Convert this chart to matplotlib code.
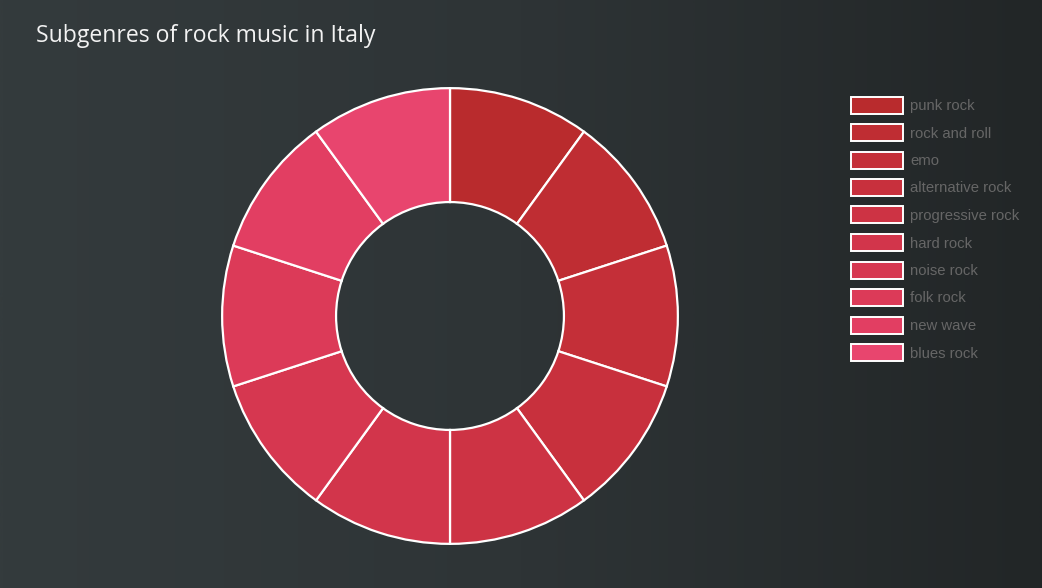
import numpy as np
import matplotlib
matplotlib.use("Agg")
import matplotlib.pyplot as plt
from matplotlib.patches import Rectangle
from matplotlib.colors import LinearSegmentedColormap

title = "Subgenres of rock music in Italy"
genres = ["punk rock", "rock and roll", "emo", "alternative rock", "progressive rock",
          "hard rock", "noise rock", "folk rock", "new wave", "blues rock"]
values = [1, 1, 1, 1, 1, 1, 1, 1, 1, 1]
colors = ["#b92b2d", "#bf2d33", "#c42f38", "#c8303d", "#cd3344",
          "#d2354b", "#d63750", "#dc3a58", "#e23e62", "#e8456e"]

W, H = 1042, 588
fig = plt.figure(figsize=(W / 100, H / 100), dpi=100)

# background gradient
bg = fig.add_axes([0, 0, 1, 1])
cmap = LinearSegmentedColormap.from_list("bg", ["#343b3d", "#2e3436", "#222627"])
grad = np.linspace(0, 1, 512).reshape(1, -1)
bg.imshow(grad, aspect="auto", cmap=cmap, extent=[0, 1, 0, 1])
bg.set_axis_off()

# donut
cx, cy, R = 450, 316, 229
ax = fig.add_axes([(cx - R) / W, (H - cy - R) / H, 2 * R / W, 2 * R / H])
ax.pie(values, colors=colors, startangle=90, counterclock=False, radius=1,
       wedgeprops=dict(width=0.5, edgecolor="white", linewidth=1.6))
ax.set_xlim(-1.005, 1.005)
ax.set_ylim(-1.005, 1.005)
ax.set_aspect("equal")
ax.set_axis_off()

# title
fig.text(36 / W, 1 - 36 / H, title, color="#f2f2f2", fontsize=16.6,
         family="Open Sans", va="center", ha="left")

# legend
y0, dy = 105, 27.5
for i, (g, c) in enumerate(zip(genres, colors)):
    y = y0 + i * dy
    fig.patches.append(Rectangle(((851) / W, 1 - (y + 8.5) / H), 52 / W, 17 / H,
                                 transform=fig.transFigure, facecolor=c,
                                 edgecolor="white", linewidth=1.4))
    fig.text(910 / W, 1 - (y + 1) / H, g, color="#666666", fontsize=10.7,
             family="Liberation Sans", va="center", ha="left")

fig.savefig("out.png", dpi=100)
